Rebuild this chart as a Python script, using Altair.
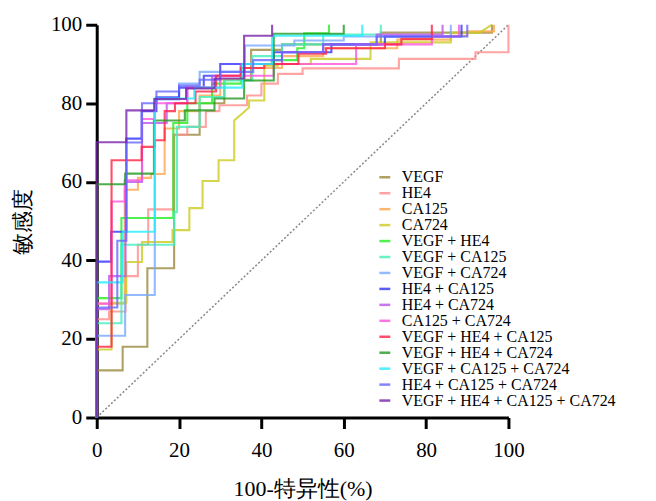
import altair as alt
import pandas as pd

SERIES = [
    "VEGF", "HE4", "CA125", "CA724",
    "VEGF + HE4", "VEGF + CA125", "VEGF + CA724",
    "HE4 + CA125", "HE4 + CA724", "CA125 + CA724",
    "VEGF + HE4 + CA125", "VEGF + HE4 + CA724", "VEGF + CA125 + CA724",
    "HE4 + CA125 + CA724", "VEGF + HE4 + CA125 + CA724",
]
COLORS = [
    "#9b8a3c", "#ff8c8c", "#ffa64d", "#cccc22",
    "#22ee22", "#44eebb", "#77aaff",
    "#3333ff", "#bb55ee", "#ff55dd",
    "#ff2244", "#229922", "#22eeff",
    "#6666ff", "#7722aa",
]

# ROC step corners: (100-specificity, sensitivity)
VEGF_X = [0, 0, 6.3, 12.3, 18.8, 25, 31, 37.5, 45, 69, 96]
VEGF_Y = [0, 12, 18, 38, 72, 80, 86, 93.6, 95, 98, 100]
HE4_X = [0, 0, 3, 7, 10, 12.5, 18.6, 22, 26.5, 29.8, 36.5, 40, 44, 50, 73.4, 92, 100]
HE4_Y = [0, 25, 27, 36, 44, 53, 72, 74, 78, 79.5, 82, 85, 87.5, 88.9, 91.3, 93, 100]
CA125_X = [0, 0, 6.8, 10, 13.2, 16.5, 20, 25, 30, 36, 45, 55, 73, 86, 90, 96.5]
CA125_Y = [0, 29, 58, 61, 62, 73.6, 78, 82, 86, 89, 92, 94, 96.2, 97.2, 98.3, 100]
CA724_X = [0, 0, 3.6, 7.2, 11, 18.4, 22.5, 25.7, 29.6, 33.4, 37, 37, 40.7, 44, 52, 66.5, 86, 93, 96]
CA724_Y = [0, 17.3, 29.2, 39.6, 44.7, 47.7, 53.3, 60.2, 65.5, 75.6, 78.9, 80.7, 89.6, 90, 91.3, 95.5, 98, 98, 100]
V_H_X = [0, 0, 6, 18.6, 22, 28, 35, 42.5, 48.7, 50.4, 56.4]
V_H_Y = [0, 30.4, 50.8, 75, 80, 85, 90, 91, 94, 97.8, 100]
V_C125_X = [0, 0, 6, 18.8, 19.5, 25, 31, 37.8, 45, 55, 69]
V_C125_Y = [0, 24, 44, 52.3, 74, 81.6, 85.8, 92, 95, 97.5, 100]
V_C724_X = [0, 0, 6.9, 14.1, 20, 25, 36, 48, 60, 86]
V_C724_Y = [0, 20.8, 31.2, 81, 85, 88, 94.7, 96, 97, 100]
H_C125_X = [0, 0, 3.5, 7.2, 10.9, 14.5, 20, 26, 30, 43, 57, 70, 88.6]
H_C125_Y = [0, 39.7, 47.3, 71, 78, 81.5, 84, 87, 90, 93, 95, 97, 100]
H_C724_X = [0, 0, 3, 7, 11, 17, 22, 28, 35, 45, 55, 68, 84]
H_C724_Y = [0, 27.6, 36, 60, 75, 80, 84, 87, 90, 93, 95, 97.5, 100]
C125_C724_X = [0, 0, 3.6, 6.8, 11, 14, 22, 30, 43, 63, 81.4, 88]
C125_C724_Y = [0, 29, 55, 60.4, 76, 80, 84, 87, 90, 95, 97, 100]
V_H_C125_X = [0, 0, 3.6, 10.9, 14.1, 16.5, 19, 24, 29, 35, 40.7, 49, 55.7, 70, 74, 81.4]
V_H_C125_Y = [0, 18, 65.5, 68.9, 70.6, 78, 80, 83, 87, 89, 90, 92.6, 94, 95, 96.4, 100]
V_H_C724_X = [0, 0, 6.9, 13.9, 21.4, 28.6, 35.8, 43, 60]
V_H_C724_Y = [0, 59.4, 62.1, 75.6, 78.2, 81.2, 85.8, 97.7, 100]
V_C125_C724_X = [0, 0, 6.3, 14.1, 23.7, 35.4, 42.6, 64.5]
V_C125_C724_Y = [0, 34.4, 47.3, 81.2, 84, 90, 97.2, 100]
H_C125_C724_X = [0, 0, 5, 7.2, 11, 14.5, 20, 25, 30, 38, 45, 55, 68, 90]
H_C125_C724_Y = [0, 28, 45, 70, 80, 83, 84.5, 86, 88, 91, 93, 95, 97, 100]
ALL_X = [0, 0, 7.2, 14, 21.7, 28.6, 35.8, 42.6]
ALL_Y = [0, 70.1, 78.2, 81.1, 83.8, 86.3, 97.2, 100]

CURVES = [
    (VEGF_X, VEGF_Y), (HE4_X, HE4_Y), (CA125_X, CA125_Y), (CA724_X, CA724_Y),
    (V_H_X, V_H_Y), (V_C125_X, V_C125_Y), (V_C724_X, V_C724_Y),
    (H_C125_X, H_C125_Y), (H_C724_X, H_C724_Y), (C125_C724_X, C125_C724_Y),
    (V_H_C125_X, V_H_C125_Y), (V_H_C724_X, V_H_C724_Y), (V_C125_C724_X, V_C125_C724_Y),
    (H_C125_C724_X, H_C125_C724_Y), (ALL_X, ALL_Y),
]
# indices of points reached by a straight (sloped) segment instead of a step
LINEAR = {"CA724": [10, 18]}

DIAG_X = [0, 100]
DIAG_Y = [0, 100]

rows = []
for name, (xs, ys) in zip(SERIES, CURVES):
    k = 0
    for i in range(len(xs)):
        if i > 0 and i not in LINEAR.get(name, []):
            rows.append({"series": name, "x": xs[i], "y": ys[i - 1], "ord": k}); k += 1
        rows.append({"series": name, "x": xs[i], "y": ys[i], "ord": k}); k += 1
df = pd.DataFrame(rows)
diag = pd.DataFrame({"x": DIAG_X, "y": DIAG_Y})

SERIF = "Liberation Serif"
TICKS = [0, 20, 40, 60, 80, 100]

xscale = alt.Scale(domain=[0, 100], nice=False)
yscale = alt.Scale(domain=[0, 100], nice=False)

xaxis = alt.Axis(values=TICKS, title="100-特异性(%)", grid=False, domainColor="black",
                 domainWidth=3, tickColor="black", tickWidth=3, tickSize=11, labelFlush=False,
                 labelFont=SERIF, labelFontSize=21, labelColor="black", labelPadding=11,
                 titleFont=SERIF, titleFontSize=22, titleFontWeight="normal",
                 titleColor="black", titlePadding=18)
yaxis = alt.Axis(values=TICKS, title="敏感度", grid=False, domainColor="black",
                 domainWidth=3, tickColor="black", tickWidth=3, tickSize=11, labelFlush=False,
                 labelFont=SERIF, labelFontSize=21, labelColor="black", labelPadding=4,
                 titleFont=SERIF, titleFontSize=22, titleFontWeight="normal",
                 titleColor="black", titlePadding=16)

diag_line = alt.Chart(diag).mark_line(color="#888888", strokeWidth=1.5, strokeDash=[2, 2]).encode(
    x=alt.X("x:Q", scale=xscale, axis=xaxis),
    y=alt.Y("y:Q", scale=yscale, axis=yaxis),
)

curves = alt.Chart(df).mark_line(strokeWidth=2.1, opacity=0.8).encode(
    x=alt.X("x:Q", scale=xscale, axis=xaxis),
    y=alt.Y("y:Q", scale=yscale, axis=yaxis),
    color=alt.Color("series:N", scale=alt.Scale(domain=SERIES, range=COLORS),
                    legend=alt.Legend(title=None, orient="none", legendX=281, legendY=145,
                                      symbolType="stroke", symbolSize=120, symbolStrokeWidth=2.5,
                                      labelFont="Liberation Serif", labelFontSize=16,
                                      labelColor="black", labelLimit=400, labelOffset=9,
                                      rowPadding=0)),
    order="ord:Q",
)

chart = alt.layer(diag_line, curves).properties(
    width=413, height=394,
    autosize=alt.AutoSizeParams(type="none"),
    padding={"left": 89, "top": 16, "right": 140, "bottom": 95},
).configure_view(stroke=None)

chart.save("out.html", embed_options={"renderer": "svg", "actions": False})
